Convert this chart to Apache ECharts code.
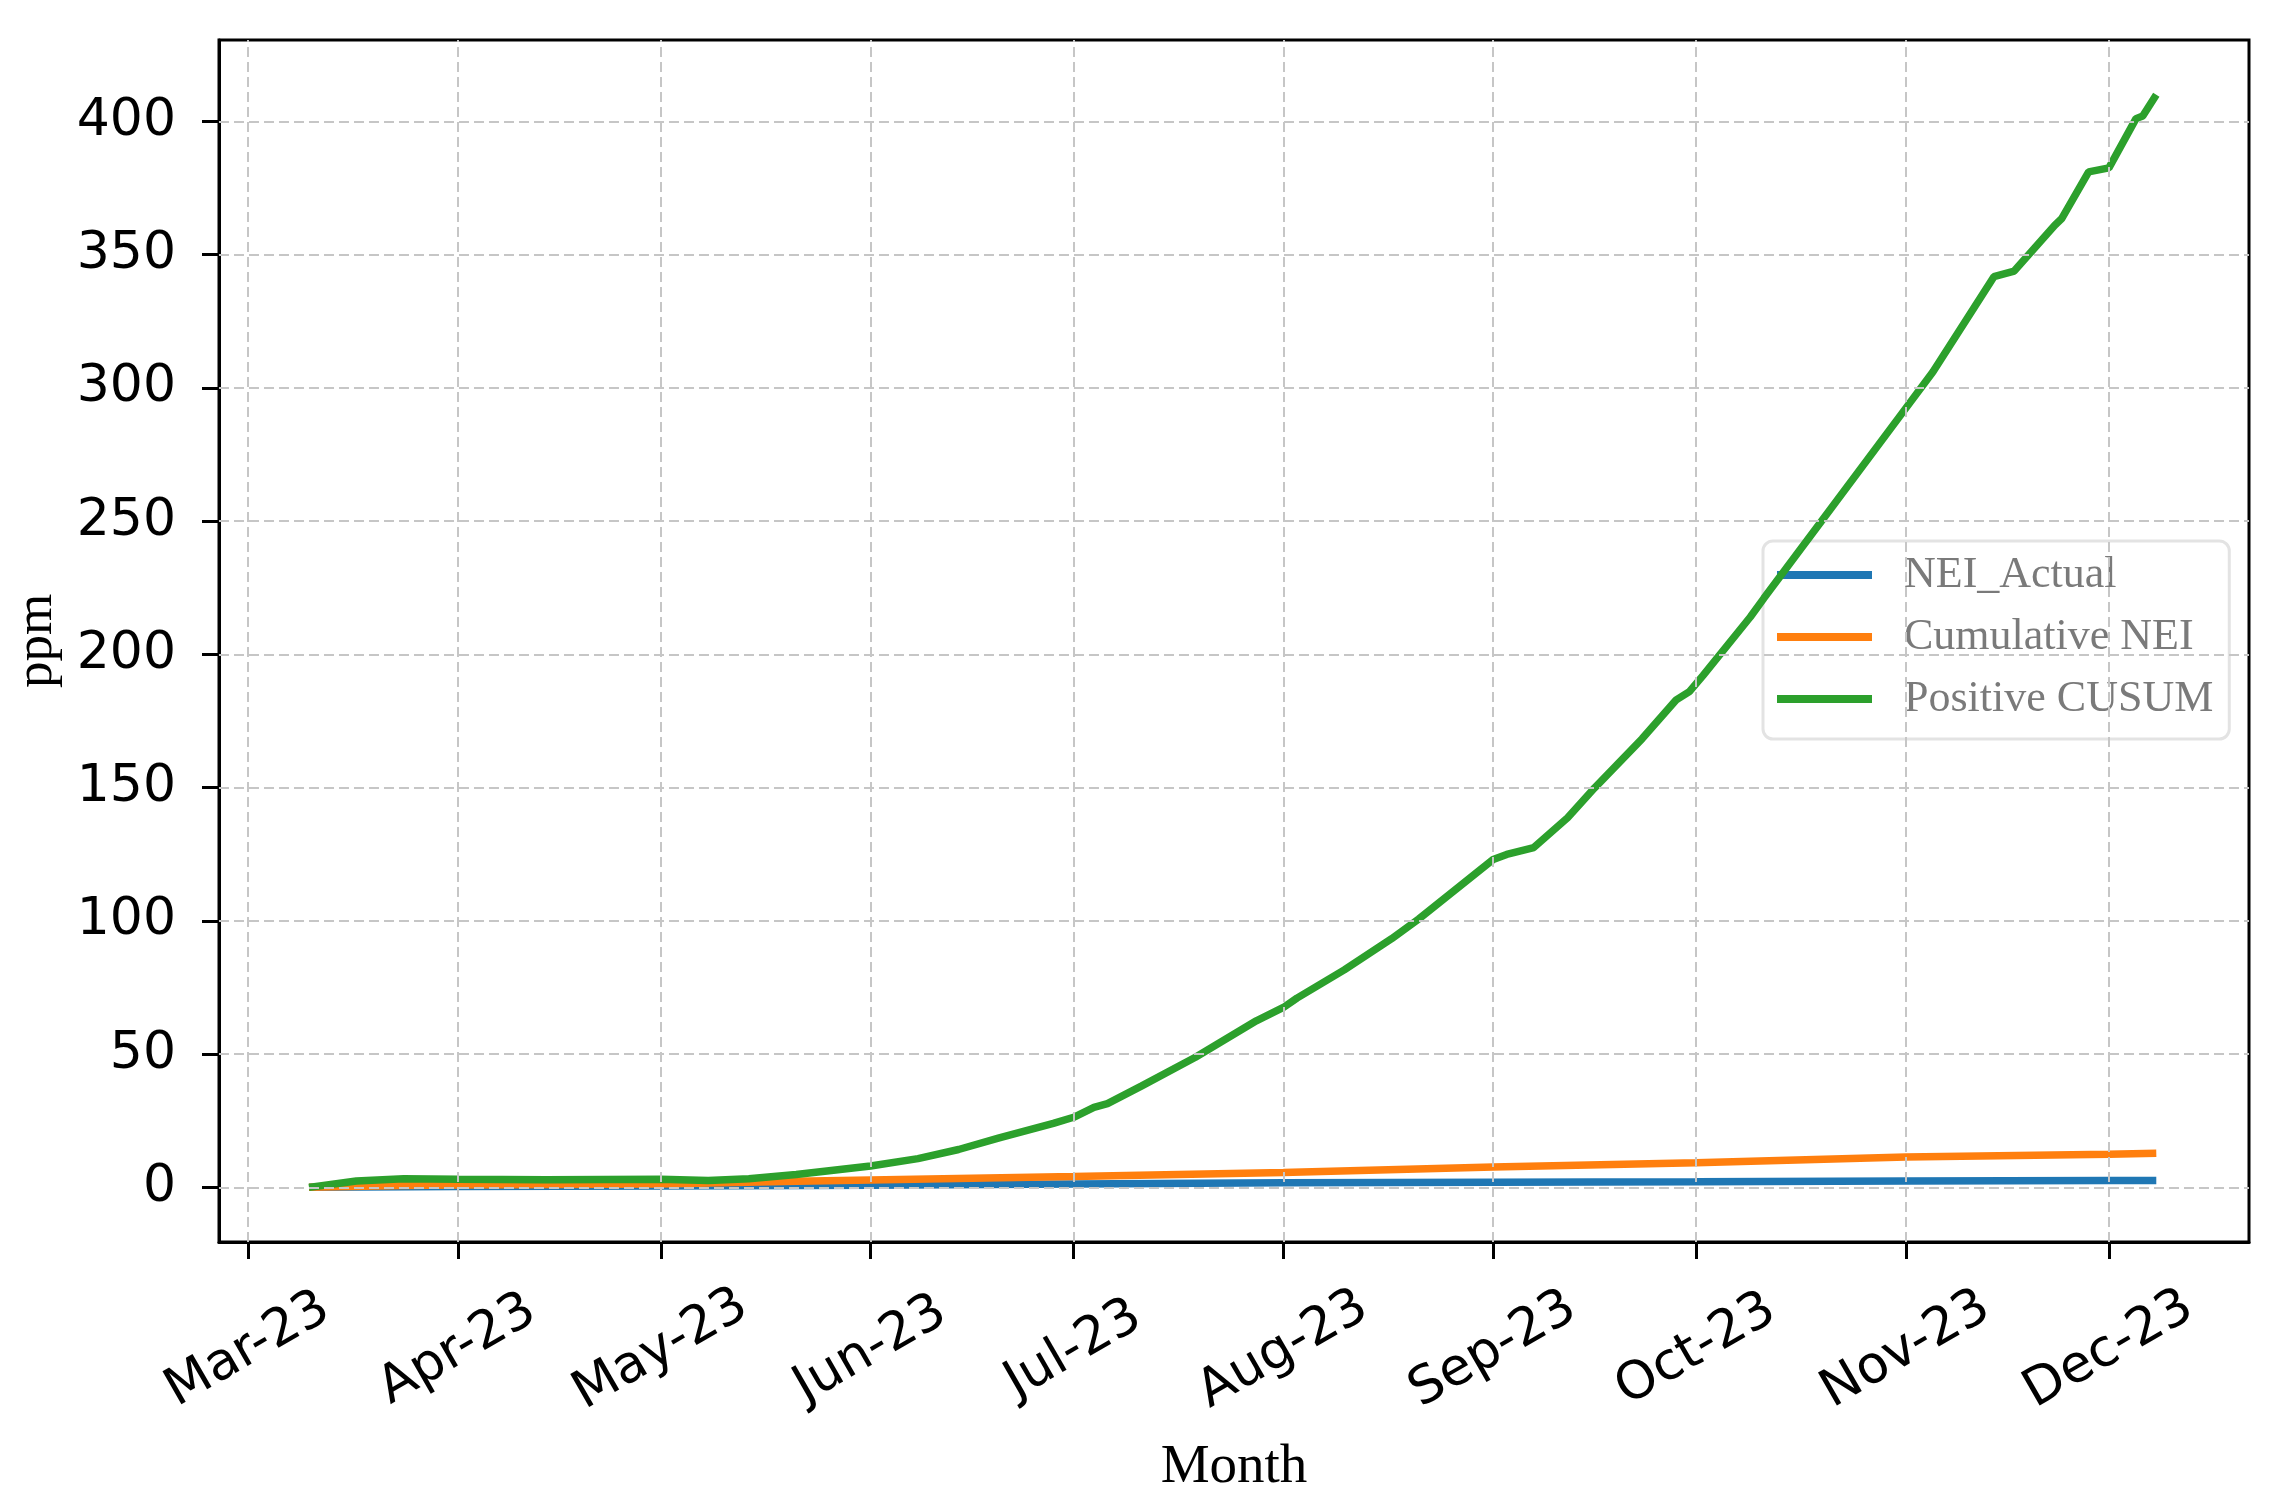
<!DOCTYPE html>
<html>
<head>
<meta charset="utf-8">
<script src="https://cdn.jsdelivr.net/npm/echarts@6/dist/echarts.min.js"></script>
<style>
html,body{margin:0;padding:0;background:#fff;}
#chart{width:2277px;height:1506px;}
</style>
</head>
<body>
<div id="chart"></div>
<script>
// ---- data ----
const monthDates = ['2023-03-01','2023-04-01','2023-05-01','2023-06-01','2023-07-01','2023-08-01','2023-09-01','2023-10-01','2023-11-01','2023-12-01'];
const monthLabels = ['Mar-23','Apr-23','May-23','Jun-23','Jul-23','Aug-23','Sep-23','Oct-23','Nov-23','Dec-23'];
const yTicks = [0,50,100,150,200,250,300,350,400];

const neiActual = [
  ['2023-03-10',0],['2023-04-01',0.3],['2023-05-01',0.5],['2023-06-01',0.8],['2023-07-01',1.3],
  ['2023-08-01',1.75],['2023-09-01',1.9],['2023-10-01',2.1],['2023-11-01',2.4],['2023-12-01',2.6],['2023-12-08',2.6]
];
const cumulativeNEI = [
  ['2023-03-10',0],['2023-03-24',0.7],['2023-04-01',0.9],['2023-05-01',1.3],['2023-05-21',2.3],['2023-06-01',2.8],
  ['2023-07-01',4.1],['2023-08-01',5.6],['2023-09-01',7.6],['2023-10-01',9.2],['2023-11-01',11.4],['2023-12-01',12.4],['2023-12-08',12.8]
];
const positiveCUSUM = [
  ['2023-03-10',0],['2023-03-17',2.4],['2023-03-24',3.2],['2023-04-01',3.0],['2023-04-14',2.9],['2023-05-01',3.0],
  ['2023-05-08',2.6],['2023-05-14',3.2],['2023-05-21',4.8],['2023-06-01',8.0],['2023-06-08',10.8],['2023-06-14',14.2],
  ['2023-06-20',18.6],['2023-06-28',24],['2023-07-01',26.3],['2023-07-04',30],['2023-07-06',31.4],['2023-07-11',38],
  ['2023-07-19',48.8],['2023-07-28',62.5],['2023-08-01',67.5],['2023-08-03',71],['2023-08-10',81.6],['2023-08-17',93.3],
  ['2023-08-21',100.7],['2023-09-01',123],['2023-09-03',124.9],['2023-09-07',127.5],['2023-09-12',138.7],['2023-09-16',149.9],
  ['2023-09-23',168.3],['2023-09-28',182.8],['2023-09-30',186],['2023-10-02',192],['2023-10-09',214],['2023-10-11',221],
  ['2023-10-21',255],['2023-10-31',289],['2023-11-05',306],['2023-11-14',341.7],['2023-11-17',343.8],['2023-11-23',361],
  ['2023-11-24',363.4],['2023-11-28',381],['2023-12-01',382.5],['2023-12-05',401],['2023-12-06',402],['2023-12-08',410]
];

// ---- helpers ----
function ts(s){ const p = s.split('-').map(Number); return Date.UTC(p[0], p[1]-1, p[2]); }
const DAY = 86400000;
const monthTs = monthDates.map(ts);
const xMin = ts('2023-03-01') - 4.3*DAY;
const xMax = ts('2023-12-01') + 20.7*DAY;
const toTs = arr => arr.map(d => [ts(d[0]), d[1]]);

const chart = echarts.init(document.getElementById('chart'), null, {renderer:'canvas'});
const gridLine = {color:'#c6c6c6', type:[10,5], width:2};

chart.setOption({
  animation:false,
  backgroundColor:'#fff',
  grid:{left:219, top:40, right:28, bottom:264, show:true, borderColor:'#000', borderWidth:3, containLabel:false},
  legend:{
    orient:'vertical', left:1763, top:541,
    data:['NEI_Actual','Cumulative NEI','Positive CUSUM'],
    icon:'rect', itemWidth:95, itemHeight:8, itemGap:18,
    padding:[12,16,18,14],
    borderColor:'#e3e3e3', borderWidth:3, borderRadius:10,
    backgroundColor:'rgba(255,255,255,0)',
    textStyle:{fontFamily:'Liberation Serif', fontSize:44, color:'#7a7a7a', padding:[0,0,0,27]}
  },
  xAxis:{
    type:'value', min:xMin, max:xMax, scale:true,
    name:'Month', nameLocation:'middle', nameGap:198,
    nameTextStyle:{fontFamily:'Liberation Serif', fontSize:55, color:'#000'},
    axisLine:{show:true, onZero:false, lineStyle:{color:'#000', width:3}},
    axisTick:{show:true, length:17, lineStyle:{color:'#000', width:3}, customValues:monthTs},
    axisLabel:{
      customValues:monthTs, rotate:30, align:'center', verticalAlign:'middle', margin:108,
      fontFamily:'DejaVu Sans', fontSize:52, color:'#000',
      formatter:function(v){ const i = monthTs.indexOf(v); return i>=0 ? monthLabels[i] : ''; }
    },
    splitLine:{show:false}
  },
  yAxis:{
    type:'value', min:-20.5, max:430.5,
    name:'ppm', nameLocation:'middle', nameRotate:90, nameGap:155,
    nameTextStyle:{fontFamily:'Liberation Serif', fontSize:53, color:'#000'},
    axisLine:{show:true, onZero:false, lineStyle:{color:'#000', width:3}},
    axisTick:{show:true, length:17, lineStyle:{color:'#000', width:3}, customValues:yTicks},
    axisLabel:{customValues:yTicks, margin:43, fontFamily:'DejaVu Sans', fontSize:52, color:'#000'},
    splitLine:{show:false}
  },
  series:[
    {
      name:'_grid', type:'line', data:[], z:1, silent:true,
      markLine:{
        silent:true, symbol:['none','none'], label:{show:false}, lineStyle:gridLine, animation:false,
        data: monthTs.map(t=>({xAxis:t})).concat(yTicks.map(v=>({yAxis:v})))
      }
    },
    {name:'NEI_Actual', type:'line', data:toTs(neiActual), showSymbol:false, symbol:'none', z:2,
     lineStyle:{color:'#1f77b4', width:7.5}, itemStyle:{color:'#1f77b4'}},
    {name:'Cumulative NEI', type:'line', data:toTs(cumulativeNEI), showSymbol:false, symbol:'none', z:3,
     lineStyle:{color:'#ff7f0e', width:7.5}, itemStyle:{color:'#ff7f0e'}},
    {name:'Positive CUSUM', type:'line', data:toTs(positiveCUSUM), showSymbol:false, symbol:'none', z:4,
     lineStyle:{color:'#2ca02c', width:7.5}, itemStyle:{color:'#2ca02c'}}
  ]
});
</script>
</body>
</html>
